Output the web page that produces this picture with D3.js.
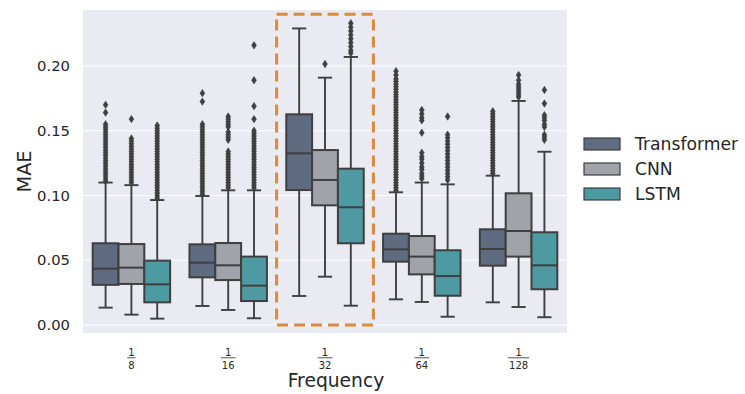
<!DOCTYPE html>
<html>
<head>
<meta charset="utf-8">
<script src="https://cdn.jsdelivr.net/npm/d3@7"></script>
<style>
  html, body { margin: 0; padding: 0; background: #ffffff; }
  svg { display: block; font-family: "DejaVu Sans", sans-serif; }
</style>
</head>
<body>
<svg id="chart" width="745" height="394"></svg>
<script>
// ---------------- data ----------------
const categories = ["1/8", "1/16", "1/32", "1/64", "1/128"];
const numerators = ["1", "1", "1", "1", "1"];
const denominators = ["8", "16", "32", "64", "128"];
const seriesNames = ["Transformer", "CNN", "LSTM"];
const yTicks = [0.00, 0.05, 0.10, 0.15, 0.20];
const highlightCategory = "1/32";
const highlightRange = [0.0, 0.240];

const transformerQ1  = [0.0310, 0.0368, 0.1042, 0.0489, 0.0458];
const transformerMed = [0.0435, 0.0481, 0.1326, 0.0584, 0.0587];
const transformerQ3  = [0.0631, 0.0623, 0.1627, 0.0705, 0.0739];
const transformerLo  = [0.0134, 0.0147, 0.0224, 0.0198, 0.0175];
const transformerHi  = [0.1100, 0.0996, 0.2290, 0.1025, 0.1153];
const transformerOut = [
  [0.111,0.113,0.115,0.117,0.119,0.121,0.123,0.125,0.127,0.129,0.131,0.133,0.135,0.137,0.139,0.141,0.143,0.145,0.147,0.149,0.151,0.153,0.155,0.164,0.170],
  [0.101,0.103,0.105,0.107,0.109,0.111,0.113,0.115,0.117,0.119,0.121,0.123,0.125,0.127,0.129,0.131,0.133,0.135,0.137,0.139,0.141,0.143,0.145,0.147,0.149,0.151,0.153,0.155,0.1725,0.179],
  [],
  [0.104,0.106,0.108,0.110,0.112,0.114,0.116,0.118,0.120,0.122,0.124,0.126,0.128,0.130,0.132,0.134,0.136,0.138,0.140,0.142,0.144,0.146,0.148,0.150,0.152,0.154,0.156,0.158,0.160,0.162,0.164,0.166,0.168,0.170,0.172,0.174,0.176,0.178,0.180,0.182,0.184,0.186,0.188,0.190,0.193,0.196],
  [0.117,0.119,0.121,0.123,0.125,0.127,0.129,0.131,0.133,0.135,0.137,0.139,0.141,0.143,0.145,0.147,0.149,0.151,0.153,0.155,0.157,0.159,0.161,0.163,0.165]
];

const cnnQ1  = [0.0317, 0.0347, 0.0924, 0.0391, 0.0528];
const cnnMed = [0.0443, 0.0461, 0.1120, 0.0528, 0.0726];
const cnnQ3  = [0.0625, 0.0633, 0.1351, 0.0687, 0.1017];
const cnnLo  = [0.0080, 0.0116, 0.0373, 0.0178, 0.0139];
const cnnHi  = [0.1080, 0.1040, 0.1910, 0.1100, 0.1730];
const cnnOut = [
  [0.110,0.112,0.114,0.116,0.118,0.120,0.122,0.124,0.126,0.128,0.130,0.132,0.134,0.136,0.138,0.140,0.142,0.144,0.159],
  [0.106,0.108,0.110,0.112,0.114,0.116,0.118,0.120,0.122,0.124,0.126,0.128,0.130,0.132,0.134,0.143,0.145,0.147,0.149,0.153,0.155,0.157,0.159,0.161],
  [0.2015],
  [0.113,0.115,0.117,0.120,0.122,0.125,0.128,0.130,0.133,0.1485,0.158,0.160,0.163,0.166],
  [0.176,0.178,0.180,0.182,0.184,0.186,0.189,0.193]
];

const lstmQ1  = [0.0175, 0.0185, 0.0631, 0.0226, 0.0276];
const lstmMed = [0.0314, 0.0304, 0.0909, 0.0378, 0.0461];
const lstmQ3  = [0.0497, 0.0528, 0.1207, 0.0577, 0.0716];
const lstmLo  = [0.0049, 0.0052, 0.0149, 0.0064, 0.0060];
const lstmHi  = [0.0965, 0.1040, 0.2070, 0.1086, 0.1338];
const lstmOut = [
  [0.098,0.100,0.102,0.104,0.106,0.108,0.110,0.112,0.114,0.116,0.118,0.120,0.122,0.124,0.126,0.128,0.130,0.132,0.134,0.136,0.138,0.140,0.142,0.144,0.146,0.148,0.150,0.152,0.154],
  [0.106,0.108,0.110,0.112,0.114,0.116,0.118,0.120,0.122,0.124,0.126,0.128,0.130,0.132,0.134,0.136,0.138,0.140,0.142,0.144,0.146,0.148,0.150,0.159,0.169,0.189,0.216],
  [0.210,0.212,0.215,0.218,0.221,0.224,0.227,0.230,0.233],
  [0.112,0.1145,0.117,0.1195,0.122,0.1245,0.127,0.1295,0.132,0.1345,0.137,0.1395,0.142,0.1445,0.147,0.161],
  [0.143,0.145,0.147,0.153,0.155,0.158,0.160,0.162,0.171,0.1815]
];

const seriesColors = ["#5f6b80", "#a1a3ab", "#4e9aa3"];

// ---------------- build ----------------
const stats = [
  {q1: transformerQ1, med: transformerMed, q3: transformerQ3, lo: transformerLo, hi: transformerHi, out: transformerOut},
  {q1: cnnQ1, med: cnnMed, q3: cnnQ3, lo: cnnLo, hi: cnnHi, out: cnnOut},
  {q1: lstmQ1, med: lstmMed, q3: lstmQ3, lo: lstmLo, hi: lstmHi, out: lstmOut}
];
const boxes = [];
seriesNames.forEach((s, si) => {
  categories.forEach((c, ci) => {
    boxes.push({series: s, si, cat: c, ci,
      q1: stats[si].q1[ci], med: stats[si].med[ci], q3: stats[si].q3[ci],
      lo: stats[si].lo[ci], hi: stats[si].hi[ci], out: stats[si].out[ci]});
  });
});

const svg = d3.select("#chart");
const plot = {left: 83, right: 567, top: 10, bottom: 333};
const edge = "#3f3f3f";

const x = d3.scaleBand().domain(categories).range([plot.left, plot.right]).padding(0);
const y = d3.scaleLinear().domain([-0.00618, 0.24324]).range([plot.bottom, plot.top]);
const hue = d3.scaleBand().domain(seriesNames)
  .range([0, x.bandwidth() * 0.8]).padding(0);
const color = d3.scaleOrdinal().domain(seriesNames).range(seriesColors);
const groupOffset = x.bandwidth() * 0.1;

// background
svg.append("rect")
  .attr("x", plot.left).attr("y", plot.top)
  .attr("width", plot.right - plot.left).attr("height", plot.bottom - plot.top)
  .attr("fill", "#eaeaf2");

// grid + y axis
const yAxis = d3.axisLeft(y).tickValues(yTicks).tickFormat(d3.format(".2f")).tickSize(0).tickPadding(13);
const gy = svg.append("g").attr("transform", `translate(${plot.left},0)`).call(yAxis);
gy.select(".domain").remove();
gy.selectAll("text").attr("font-size", 14.8).attr("fill", "#262626")
  .attr("font-family", "DejaVu Sans, sans-serif");
svg.append("g").selectAll("line").data(yTicks).join("line")
  .attr("x1", plot.left).attr("x2", plot.right)
  .attr("y1", d => y(d)).attr("y2", d => y(d))
  .attr("stroke", "#ffffff").attr("stroke-width", 1.2);

// boxes
const bw = hue.bandwidth();
const g = svg.append("g");
const bg = g.selectAll("g.box").data(boxes).join("g").attr("class", "box");
const cx = d => x(d.cat) + groupOffset + hue(d.series) + bw / 2;
const capW = bw * 0.55;

bg.append("line")
  .attr("x1", cx).attr("x2", cx)
  .attr("y1", d => y(d.hi)).attr("y2", d => y(d.q3))
  .attr("stroke", edge).attr("stroke-width", 1.9);
bg.append("line")
  .attr("x1", cx).attr("x2", cx)
  .attr("y1", d => y(d.q1)).attr("y2", d => y(d.lo))
  .attr("stroke", edge).attr("stroke-width", 1.9);
bg.append("line")
  .attr("x1", d => cx(d) - capW / 2).attr("x2", d => cx(d) + capW / 2)
  .attr("y1", d => y(d.hi)).attr("y2", d => y(d.hi))
  .attr("stroke", edge).attr("stroke-width", 1.9);
bg.append("line")
  .attr("x1", d => cx(d) - capW / 2).attr("x2", d => cx(d) + capW / 2)
  .attr("y1", d => y(d.lo)).attr("y2", d => y(d.lo))
  .attr("stroke", edge).attr("stroke-width", 1.9);
bg.append("rect")
  .attr("x", d => x(d.cat) + groupOffset + hue(d.series))
  .attr("width", bw)
  .attr("y", d => y(d.q3)).attr("height", d => y(d.q1) - y(d.q3))
  .attr("fill", d => color(d.series))
  .attr("stroke", edge).attr("stroke-width", 2);
bg.append("line")
  .attr("x1", d => x(d.cat) + groupOffset + hue(d.series)).attr("x2", d => x(d.cat) + groupOffset + hue(d.series) + bw)
  .attr("y1", d => y(d.med)).attr("y2", d => y(d.med))
  .attr("stroke", edge).attr("stroke-width", 2);
// outliers (thin diamonds)
const diamond = "M0,-3.7L2.4,0L0,3.7L-2.4,0Z";
bg.each(function(d) {
  d3.select(this).selectAll("path.flier").data(d.out).join("path")
    .attr("class", "flier")
    .attr("d", diamond)
    .attr("transform", v => `translate(${cx(d)},${y(v)})`)
    .attr("fill", edge).attr("stroke", edge).attr("stroke-width", 0.6);
});

// highlight dashed rect
svg.append("rect")
  .attr("x", x(highlightCategory)).attr("width", x.bandwidth())
  .attr("y", y(highlightRange[1])).attr("height", y(highlightRange[0]) - y(highlightRange[1]))
  .attr("fill", "none").attr("stroke", "#d98b3e").attr("stroke-width", 3)
  .attr("stroke-dasharray", "11,6");

// x tick labels (fractions)
const xt = svg.append("g").selectAll("g").data(categories).join("g")
  .attr("transform", d => `translate(${x(d) + x.bandwidth() / 2},0)`);
xt.append("text").attr("y", 355.5).attr("text-anchor", "middle")
  .attr("font-size", 10).attr("fill", "#262626")
  .text((d, i) => numerators[i]);
xt.append("text").attr("y", 368.5).attr("text-anchor", "middle")
  .attr("font-size", 10).attr("fill", "#262626")
  .text((d, i) => denominators[i]);
xt.each(function() {
  const texts = d3.select(this).selectAll("text").nodes();
  const w = Math.max(...texts.map(t => t.getComputedTextLength())) + 2;
  d3.select(this).append("line").attr("x1", -w / 2).attr("x2", w / 2)
    .attr("y1", 357.8).attr("y2", 357.8).attr("stroke", "#262626").attr("stroke-width", 0.8);
});

// axis labels
svg.append("text").attr("x", 336).attr("y", 387).attr("text-anchor", "middle")
  .attr("font-size", 18.7).attr("fill", "#262626").text("Frequency");
svg.append("text").attr("transform", "translate(31,171.5) rotate(-90)").attr("text-anchor", "middle")
  .attr("font-size", 19.3).attr("fill", "#262626").text("MAE");

// legend
const lg = svg.append("g").selectAll("g").data(seriesNames).join("g")
  .attr("transform", (d, i) => `translate(584,${144 + i * 25})`);
lg.append("rect").attr("x", 0).attr("y", -6).attr("width", 36).attr("height", 12)
  .attr("fill", d => color(d)).attr("stroke", edge).attr("stroke-width", 1.2);
lg.append("text").attr("x", 51).attr("y", 6.2).attr("font-size", 17.2).attr("fill", "#262626").text(d => d);
</script>
</body>
</html>
